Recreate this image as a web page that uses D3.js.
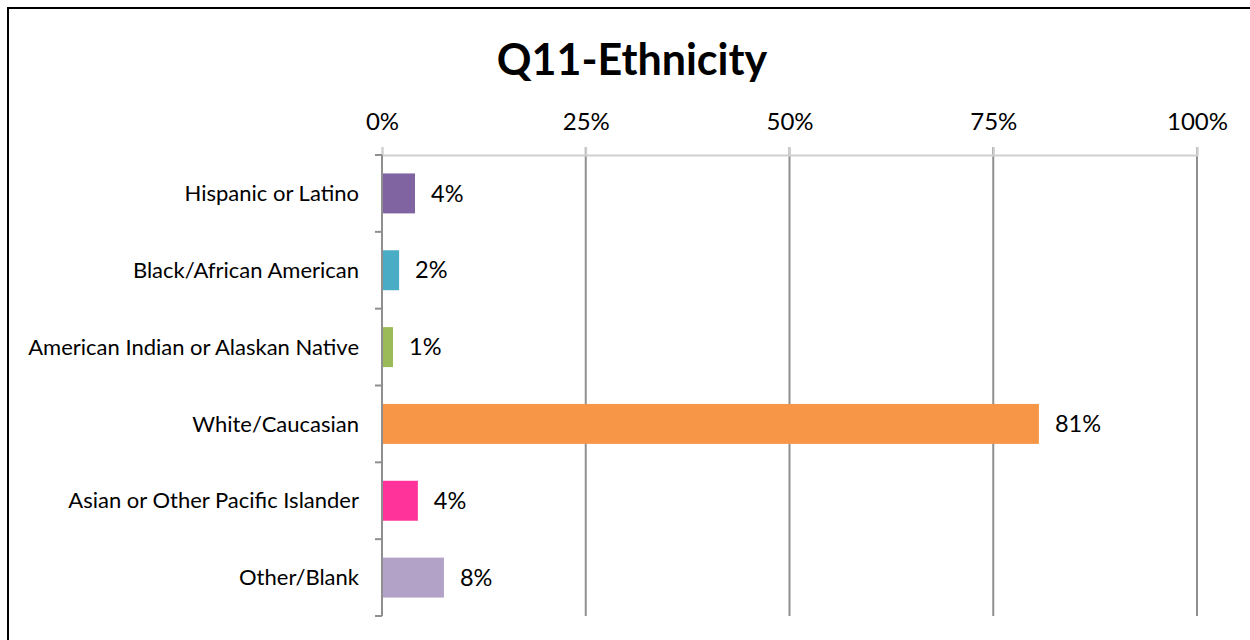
<!DOCTYPE html>
<html>
<head>
<meta charset="utf-8">
<script src="https://cdn.jsdelivr.net/npm/d3@7"></script>
<style>
body { margin: 0; background: #fff; }
text { font-family: Lato, "Open Sans", sans-serif; fill: #000; }
</style>
</head>
<body>
<svg id="chart" width="1250" height="640"></svg>
<script>
var categories = ["Hispanic or Latino", "Black/African American", "American Indian or Alaskan Native",
	"White/Caucasian", "Asian or Other Pacific Islander", "Other/Blank"]
var values = [4.05, 2.1, 1.35, 80.6, 4.4, 7.6]
var valueLabels = ["4%", "2%", "1%", "81%", "4%", "8%"]
var colors = ["#8064A2", "#4BACC6", "#9BBB59", "#F79646", "#FF3399", "#B3A2C7"]
var ticks = [0, 25, 50, 75, 100]

var svg = d3.select("#chart"),
	margin = {top: 155, right: 53, bottom: 24, left: 382},
	width = +svg.attr("width") - margin.left - margin.right,
	height = +svg.attr("height") - margin.top - margin.bottom,
	g = svg.append("g").attr("transform", "translate(" + margin.left + "," + margin.top + ")");

// frame
svg.append("path")
	.attr("d", "M8,640 V8 H1250")
	.attr("fill", "none")
	.attr("stroke", "#000")
	.attr("stroke-width", 2);

svg.append("text")
	.attr("x", 632)
	.attr("y", 75)
	.attr("text-anchor", "middle")
	.style("font-size", "43px")
	.style("font-weight", "bold")
	.text("Q11-Ethnicity");

var xScale = d3.scaleLinear()
	.domain([0, 100])
	.range([0, width]);

var yScale = d3.scaleBand()
	.domain(categories)
	.range([0, height])
	.paddingInner(0.48)
	.paddingOuter(0.24);

// gridlines
g.selectAll(".grid")
	.data(ticks.slice(1))
	.enter().append("line")
	.attr("x1", function(d) { return xScale(d); })
	.attr("x2", function(d) { return xScale(d); })
	.attr("y1", -8)
	.attr("y2", height)
	.attr("stroke", "#8f8f8f")
	.attr("stroke-width", 2);

// top axis
var xAxis = d3.axisTop(xScale)
	.tickValues(ticks)
	.tickSize(8)
	.tickPadding(17)
	.tickFormat(function(d) { return d + "%"; });

var ax = g.append("g").call(xAxis);
ax.select(".domain").attr("stroke", "#d0d0d0").attr("stroke-width", 2);
ax.selectAll(".tick line").attr("stroke", "#d0d0d0").attr("stroke-width", 2);
ax.selectAll(".tick text").style("font-size", "24px").style("font-family", "Lato, sans-serif").attr("fill", "#000");

// bars
g.selectAll(".bar")
	.data(values)
	.enter().append("rect")
	.attr("x", 0)
	.attr("y", function(d, i) { return yScale(categories[i]); })
	.attr("width", function(d) { return xScale(d); })
	.attr("height", yScale.bandwidth())
	.attr("fill", function(d, i) { return colors[i]; });

// value labels
g.selectAll(".val")
	.data(values)
	.enter().append("text")
	.attr("x", function(d) { return xScale(d) + 16; })
	.attr("y", function(d, i) { return yScale(categories[i]) + yScale.bandwidth() / 2; })
	.attr("dy", "0.35em")
	.style("font-size", "23.5px")
	.text(function(d, i) { return valueLabels[i]; });

// left axis with boundary ticks
g.append("line")
	.attr("x1", 0).attr("x2", 0)
	.attr("y1", 0).attr("y2", height)
	.attr("stroke", "#8f8f8f")
	.attr("stroke-width", 2);

g.selectAll(".btick")
	.data(d3.range(categories.length + 1))
	.enter().append("line")
	.attr("x1", -7).attr("x2", 0)
	.attr("y1", function(d) { return d * height / categories.length; })
	.attr("y2", function(d) { return d * height / categories.length; })
	.attr("stroke", "#8f8f8f")
	.attr("stroke-width", 2);

g.selectAll(".cat")
	.data(categories)
	.enter().append("text")
	.attr("x", -23)
	.attr("y", function(d) { return yScale(d) + yScale.bandwidth() / 2; })
	.attr("dy", "0.35em")
	.attr("text-anchor", "end")
	.style("font-size", "22px")
	.text(function(d) { return d; });
</script>
</body>
</html>
